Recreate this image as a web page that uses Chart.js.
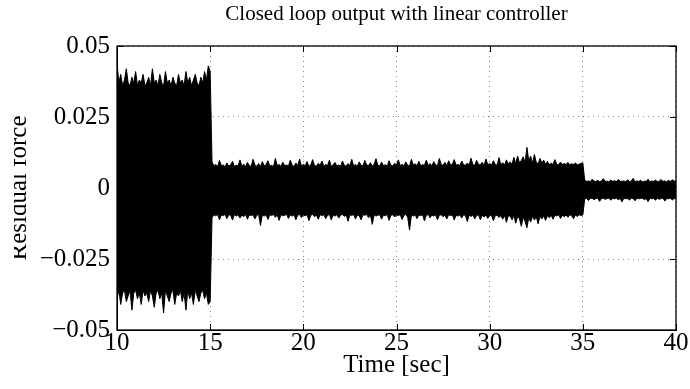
<!DOCTYPE html>
<html>
<head>
<meta charset="utf-8">
<script src="https://cdn.jsdelivr.net/npm/chart.js"></script>
<style>
  html, body { margin: 0; padding: 0; background: #fff; }
  #wrap { width: 690px; height: 389px; }
</style>
</head>
<body>
<div id="wrap"><canvas id="myChart" width="690" height="389"></canvas></div>
<script>
// envelope of the residual force, sampled every 0.1 s from t = 10 s
var timeStart = 10;
var timeStep = 0.1;

// 10.0 - 15.0 s (51 samples)
var upperA = [0.044, 0.037, 0.040, 0.036, 0.038, 0.042, 0.037, 0.036, 0.039, 0.037,
              0.041, 0.036, 0.038, 0.037, 0.040, 0.036, 0.037, 0.039, 0.036, 0.042,
              0.037, 0.038, 0.036, 0.040, 0.037, 0.036, 0.041, 0.037, 0.038, 0.036,
              0.039, 0.037, 0.036, 0.040, 0.037, 0.038, 0.036, 0.041, 0.037, 0.039,
              0.036, 0.038, 0.040, 0.037, 0.036, 0.039, 0.037, 0.041, 0.038, 0.043,
              0.041];
var lowerA = [-0.039, -0.036, -0.041, -0.037, -0.036, -0.040, -0.038, -0.036, -0.043, -0.037,
              -0.036, -0.039, -0.037, -0.041, -0.036, -0.038, -0.037, -0.040, -0.036, -0.038,
              -0.042, -0.037, -0.036, -0.039, -0.037, -0.044, -0.036, -0.038, -0.040, -0.037,
              -0.036, -0.041, -0.037, -0.038, -0.036, -0.040, -0.037, -0.043, -0.036, -0.039,
              -0.037, -0.041, -0.036, -0.038, -0.040, -0.037, -0.036, -0.039, -0.037, -0.041,
              -0.040];

// 15.1 - 35.0 s (200 samples)
var upperB = [0.0092, 0.0078, 0.0083, 0.0076, 0.0097, 0.0079, 0.0081, 0.0075, 0.0088, 0.0077,
              0.0082, 0.0094, 0.0076, 0.0080, 0.0078, 0.0099, 0.0077, 0.0084, 0.0075, 0.0090,
              0.0079, 0.0076, 0.0101, 0.0081, 0.0077, 0.0086, 0.0075, 0.0093, 0.0078, 0.0082,
              0.0096, 0.0077, 0.0080, 0.0075, 0.0104, 0.0079, 0.0083, 0.0076, 0.0091, 0.0078,
              0.0081, 0.0077, 0.0098, 0.0080, 0.0076, 0.0088, 0.0079, 0.0102, 0.0077, 0.0084,
              0.0078, 0.0093, 0.0076, 0.0081, 0.0100, 0.0079, 0.0077, 0.0087, 0.0080, 0.0095,
              0.0077, 0.0083, 0.0079, 0.0098, 0.0076, 0.0082, 0.0090, 0.0078, 0.0081, 0.0076,
              0.0095, 0.0080, 0.0077, 0.0086, 0.0079, 0.0101, 0.0078, 0.0083, 0.0077, 0.0092,
              0.0080, 0.0078, 0.0097, 0.0081, 0.0079, 0.0089, 0.0077, 0.0084, 0.0103, 0.0080,
              0.0078, 0.0091, 0.0079, 0.0082, 0.0077, 0.0096, 0.0080, 0.0078, 0.0087, 0.0081,
              0.0099, 0.0079, 0.0083, 0.0078, 0.0092, 0.0080, 0.0077, 0.0101, 0.0081, 0.0085,
              0.0079, 0.0094, 0.0078, 0.0082, 0.0080, 0.0098, 0.0079, 0.0086, 0.0078, 0.0093,
              0.0081, 0.0079, 0.0104, 0.0082, 0.0080, 0.0090, 0.0078, 0.0096, 0.0081, 0.0084,
              0.0100, 0.0080, 0.0083, 0.0079, 0.0095, 0.0082, 0.0080, 0.0088, 0.0081, 0.0105,
              0.0082, 0.0080, 0.0097, 0.0083, 0.0081, 0.0091, 0.0079, 0.0102, 0.0082, 0.0086,
              0.0081, 0.0096, 0.0083, 0.0080, 0.0107, 0.0082, 0.0089, 0.0081, 0.0099, 0.0084,
              0.0092, 0.0083, 0.0108, 0.0086, 0.0113, 0.0088, 0.0097, 0.0110, 0.0090, 0.0143,
              0.0095, 0.0112, 0.0087, 0.0118, 0.0091, 0.0085, 0.0104, 0.0088, 0.0098, 0.0084,
              0.0094, 0.0082, 0.0087, 0.0083, 0.0100, 0.0084, 0.0082, 0.0091, 0.0083, 0.0086,
              0.0083, 0.0090, 0.0082, 0.0085, 0.0083, 0.0088, 0.0082, 0.0084, 0.0086, 0.0089];
var lowerB = [-0.0105, -0.0094, -0.0098, -0.0093, -0.0112, -0.0095, -0.0097, -0.0093, -0.0108, -0.0094,
              -0.0096, -0.0113, -0.0093, -0.0099, -0.0094, -0.0106, -0.0095, -0.0101, -0.0093, -0.0110,
              -0.0095, -0.0097, -0.0094, -0.0109, -0.0096, -0.0093, -0.0132, -0.0095, -0.0099, -0.0094,
              -0.0111, -0.0094, -0.0097, -0.0093, -0.0103, -0.0095, -0.0114, -0.0094, -0.0098, -0.0096,
              -0.0093, -0.0107, -0.0095, -0.0099, -0.0094, -0.0112, -0.0096, -0.0093, -0.0104, -0.0095,
              -0.0098, -0.0094, -0.0115, -0.0096, -0.0093, -0.0101, -0.0095, -0.0110, -0.0094, -0.0097,
              -0.0094, -0.0108, -0.0096, -0.0093, -0.0113, -0.0095, -0.0099, -0.0094, -0.0106, -0.0096,
              -0.0093, -0.0100, -0.0095, -0.0117, -0.0094, -0.0097, -0.0093, -0.0109, -0.0095, -0.0098,
              -0.0112, -0.0094, -0.0096, -0.0093, -0.0105, -0.0095, -0.0128, -0.0094, -0.0099, -0.0096,
              -0.0094, -0.0110, -0.0095, -0.0098, -0.0093, -0.0114, -0.0096, -0.0094, -0.0102, -0.0095,
              -0.0097, -0.0094, -0.0111, -0.0096, -0.0093, -0.0103, -0.0148, -0.0095, -0.0099, -0.0094,
              -0.0108, -0.0095, -0.0097, -0.0094, -0.0116, -0.0096, -0.0093, -0.0105, -0.0095, -0.0099,
              -0.0094, -0.0112, -0.0096, -0.0094, -0.0101, -0.0095, -0.0109, -0.0094, -0.0097, -0.0095,
              -0.0113, -0.0096, -0.0099, -0.0095, -0.0106, -0.0094, -0.0097, -0.0118, -0.0096, -0.0100,
              -0.0095, -0.0109, -0.0097, -0.0094, -0.0112, -0.0096, -0.0102, -0.0095, -0.0107, -0.0097,
              -0.0096, -0.0115, -0.0098, -0.0095, -0.0104, -0.0097, -0.0110, -0.0096, -0.0121, -0.0098,
              -0.0099, -0.0112, -0.0097, -0.0124, -0.0100, -0.0108, -0.0135, -0.0102, -0.0118, -0.0140,
              -0.0104, -0.0120, -0.0099, -0.0113, -0.0101, -0.0126, -0.0100, -0.0109, -0.0098, -0.0114,
              -0.0097, -0.0105, -0.0096, -0.0110, -0.0095, -0.0099, -0.0094, -0.0107, -0.0096, -0.0101,
              -0.0095, -0.0103, -0.0094, -0.0098, -0.0108, -0.0095, -0.0100, -0.0094, -0.0097, -0.0095];

// 35.1 - 40.0 s (50 samples)
var upperC = [0.0028, 0.0023, 0.0025, 0.0022, 0.0031, 0.0024, 0.0023, 0.0027, 0.0022, 0.0025,
              0.0033, 0.0023, 0.0024, 0.0022, 0.0028, 0.0023, 0.0026, 0.0022, 0.0030, 0.0024,
              0.0023, 0.0025, 0.0022, 0.0029, 0.0023, 0.0024, 0.0034, 0.0022, 0.0025, 0.0023,
              0.0027, 0.0022, 0.0024, 0.0023, 0.0031, 0.0022, 0.0025, 0.0023, 0.0028, 0.0022,
              0.0024, 0.0030, 0.0023, 0.0025, 0.0022, 0.0027, 0.0023, 0.0029, 0.0024, 0.0026];
var lowerC = [-0.0039, -0.0036, -0.0044, -0.0037, -0.0036, -0.0041, -0.0037, -0.0036, -0.0047, -0.0037,
              -0.0036, -0.0040, -0.0037, -0.0036, -0.0043, -0.0037, -0.0038, -0.0036, -0.0041, -0.0037,
              -0.0049, -0.0036, -0.0038, -0.0037, -0.0042, -0.0036, -0.0037, -0.0045, -0.0036, -0.0038,
              -0.0037, -0.0036, -0.0041, -0.0037, -0.0048, -0.0036, -0.0038, -0.0037, -0.0043, -0.0036,
              -0.0040, -0.0037, -0.0036, -0.0046, -0.0037, -0.0038, -0.0036, -0.0042, -0.0037, -0.0039];

var xTicks = [10, 15, 20, 25, 30, 35, 40];
var yTicks = [-0.05, -0.025, 0, 0.025, 0.05];

var titleText = "Closed loop output with linear controller";
var xLabel = "Time [sec]";
var yLabel = "Residual force";

var serif = '"Liberation Serif", "Times New Roman", serif';

function toPoints(arr) {
    return arr.map(function(v, i){ return {x: timeStart + i * timeStep, y: v}; });
}

var upper = toPoints(upperA.concat(upperB, upperC));
var lower = toPoints(lowerA.concat(lowerB, lowerC));

// box, inward ticks, title and the (cropped) y label
var decor = {
    id: 'decor',
    afterDraw: function(chart){
        var ctx = chart.ctx;
        var a = chart.chartArea;
        var x = chart.scales.x;
        var y = chart.scales.y;
        ctx.save();
        ctx.strokeStyle = '#000';
        ctx.lineWidth = 1;
        ctx.beginPath();
        xTicks.forEach(function(v){
            var px = Math.round(x.getPixelForValue(v)) + 0.5;
            ctx.moveTo(px, a.bottom); ctx.lineTo(px, a.bottom - 6);
            ctx.moveTo(px, a.top); ctx.lineTo(px, a.top + 6);
        });
        yTicks.forEach(function(v){
            var py = Math.round(y.getPixelForValue(v)) + 0.5;
            ctx.moveTo(a.left, py); ctx.lineTo(a.left + 6, py);
            ctx.moveTo(a.right, py); ctx.lineTo(a.right - 6, py);
        });
        ctx.stroke();
        ctx.lineWidth = 1.3;
        ctx.strokeRect(a.left, a.top, a.right - a.left, a.bottom - a.top);

        ctx.fillStyle = '#000';
        ctx.font = '21px ' + serif;
        ctx.textAlign = 'center';
        ctx.textBaseline = 'middle';
        ctx.fillText(titleText, (a.left + a.right) / 2, 14);

        ctx.beginPath();
        ctx.rect(14, 0, chart.width, chart.height);
        ctx.clip();
        ctx.translate(26, (a.top + a.bottom) / 2);
        ctx.rotate(-Math.PI / 2);
        ctx.font = '25px ' + serif;
        ctx.textBaseline = 'alphabetic';
        ctx.fillText(yLabel, 0, 0);
        ctx.restore();
    }
};

var myChart = new Chart(document.getElementById("myChart").getContext("2d"), {
    type: 'line',
    data: {
        datasets: [
            {
                label: "upper",
                data: upper,
                borderColor: "#000",
                backgroundColor: "#000",
                borderWidth: 1,
                pointRadius: 0,
                tension: 0,
                fill: '+1'
            },
            {
                label: "lower",
                data: lower,
                borderColor: "#000",
                backgroundColor: "#000",
                borderWidth: 1,
                pointRadius: 0,
                tension: 0,
                fill: false
            }
        ]
    },
    plugins: [decor],
    options: {
        responsive: false,
        animation: false,
        devicePixelRatio: 1,
        layout: { padding: { top: 46, right: 14, bottom: 0, left: 0 } },
        plugins: {
            legend: { display: false },
            tooltip: { enabled: false },
            title: { display: false }
        },
        scales: {
            x: {
                type: 'linear',
                min: 10,
                max: 40,
                afterBuildTicks: function(scale){
                    scale.ticks = xTicks.map(function(v){ return {value: v}; });
                },
                afterFit: function(scale){ scale.height = 59; },
                ticks: {
                    autoSkip: false,
                    maxRotation: 0,
                    padding: -2,
                    color: '#000',
                    font: { family: serif, size: 25 }
                },
                grid: { color: '#888', drawTicks: false, lineWidth: 1 },
                border: { color: '#000', width: 1, dash: [1, 4] },
                title: {
                    display: true,
                    text: xLabel,
                    color: '#000',
                    font: { family: serif, size: 25 },
                    padding: { top: 0, bottom: 9 }
                }
            },
            y: {
                type: 'linear',
                min: -0.05,
                max: 0.05,
                afterBuildTicks: function(scale){
                    scale.ticks = yTicks.map(function(v){ return {value: v}; });
                },
                afterFit: function(scale){ scale.width = 117; },
                ticks: {
                    autoSkip: false,
                    padding: 7,
                    color: '#000',
                    font: { family: serif, size: 25 },
                    callback: function(v){ return v === 0 ? '0' : String(v).replace('-', '\u2212'); }
                },
                grid: { color: '#888', drawTicks: false, lineWidth: 1 },
                border: { color: '#000', width: 1, dash: [1, 4] }
            }
        }
    }
});
</script>
</body>
</html>
